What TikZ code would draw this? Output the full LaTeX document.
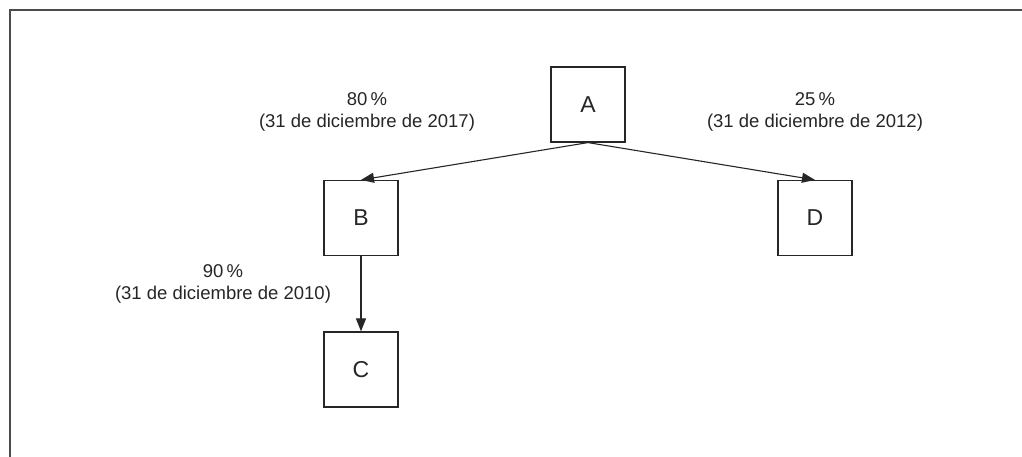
\documentclass[tikz,border=0pt]{standalone}
\usepackage{fontspec}
\setmainfont{Liberation Sans}
\usetikzlibrary{arrows.meta}
\begin{document}
\begin{tikzpicture}[x=1pt,y=-1pt,
  box/.style={draw=black!85,line width=1.2pt,minimum width=74pt,minimum height=75pt,inner sep=0pt,font=\fontsize{23}{27}\selectfont,text=black!85},
  lbl/.style={align=center,inner sep=0pt,font=\fontsize{18.5}{22}\selectfont,text=black!85},
  conn/.style={draw=black!85,line width=1.1pt,-{Triangle[length=13pt,width=10pt]}}]
\useasboundingbox (0,0) rectangle (1022,457);
\draw[line width=2pt,black!70] (10,457) -- (10,10.5) -- (1022,10.5);
\node[box] (A) at (588,104.5) {A};
\node[box] (B) at (361,218) {B};
\node[box] (C) at (361,369.5) {C};
\node[box] (D) at (815,218) {D};
\draw[conn] (A.south) -- (B.north);
\draw[conn] (A.south) -- (D.north);
\draw[conn] (B.south) -- (C.north);
\node[lbl] (l1) at (367,112) {80\,\%\\(31 de diciembre de 2017)};
\node[lbl] (l2) at (815,112) {25\,\%\\(31 de diciembre de 2012)};
\node[lbl] (l3) at (223,284) {90\,\%\\(31 de diciembre de 2010)};
\end{tikzpicture}
\end{document}
